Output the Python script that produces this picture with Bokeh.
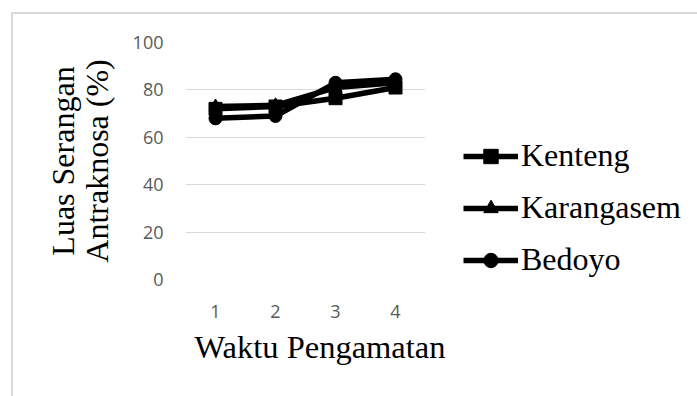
from bokeh.plotting import figure
from bokeh.models import Legend, LegendItem, FixedTicker, Range1d, Title
from bokeh.embed import file_html
from bokeh.resources import INLINE

# Observation times and attack extent (%) per location
waktu = [1, 2, 3, 4]
kenteng = [72, 73, 76.5, 81]
karangasem = [73, 73.5, 81, 83]
bedoyo = [68, 69, 83, 84.5]
y_ticks = [0, 20, 40, 60, 80, 100]

SERIF = "Liberation Serif"
SANS = "Open Sans"

p = figure(frame_width=240, frame_height=237, output_backend="svg", toolbar_location=None,
           x_range=Range1d(0.5, 4.5), y_range=Range1d(0, 100),
           min_border_left=172, min_border_right=40,
           min_border_top=28, min_border_bottom=117)
# light frame around the whole chart area
p.styles = {"margin-left": "11px", "margin-top": "12px",
            "border-left": "2px solid #d9d9d9", "border-top": "2px solid #d9d9d9"}
p.outline_line_color = None
p.background_fill_color = "white"
p.border_fill_color = "white"

# axes
for ax in (p.xaxis[0], p.yaxis[0]):
    ax.axis_line_color = None
    ax.major_tick_line_color = None
    ax.minor_tick_line_color = None
    ax.major_tick_out = 0
    ax.major_tick_in = 0
    ax.minor_tick_out = 0
    ax.major_label_text_font = SANS
    ax.major_label_text_font_size = "18px"
    ax.major_label_text_color = "#595959"
    ax.axis_label_text_font = SERIF
    ax.axis_label_text_font_size = "32px"
    ax.axis_label_text_font_style = "normal"
    ax.axis_label_text_color = "black"

p.xaxis.ticker = FixedTicker(ticks=waktu)
p.yaxis.ticker = FixedTicker(ticks=y_ticks)
p.yaxis.major_label_standoff = 22
p.xaxis.major_label_standoff = 25

p.yaxis.axis_label = "Luas Serangan\nAntraknosa (%)"
p.yaxis.axis_label_text_line_height = 0.92
p.yaxis.axis_label_standoff = 15

# x axis title, set slightly right of the plot centre
p.add_layout(Title(text="Waktu Pengamatan", align="left", offset=9,
                   text_font=SERIF, text_font_size="32.5px",
                   text_font_style="normal", text_color="black",
                   standoff=12), "below")

p.xgrid.grid_line_color = None
p.ygrid.grid_line_color = "#d9d9d9"
p.ygrid.grid_line_width = 1

# series
series = [
    ("Kenteng", kenteng, "square"),
    ("Karangasem", karangasem, "triangle"),
    ("Bedoyo", bedoyo, "circle"),
]
items = []
for name, vals, marker in series:
    ln = p.line(waktu, vals, line_color="black", line_width=5.5)
    sc = p.scatter(waktu, vals, marker=marker, size=13,
                   fill_color="black", line_color="black")
    items.append(LegendItem(label=name, renderers=[ln, sc]))

legend = Legend(items=items, location=(38, 1), orientation="vertical",
                glyph_width=55, glyph_height=36, label_height=36,
                spacing=15, padding=0, margin=0, label_standoff=3,
                label_text_font=SERIF, label_text_font_size="32px",
                label_text_color="black",
                border_line_color=None, background_fill_alpha=0)
p.add_layout(legend, "right")

open("out.html", "w").write(file_html(p, INLINE))
